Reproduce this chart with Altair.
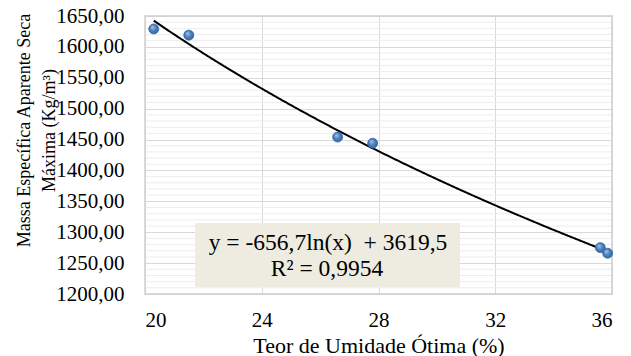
import altair as alt
import pandas as pd

# Measured points: optimum moisture content (%) vs. maximum dry density (kg/m3)
umidade = [20.3, 21.5, 26.6, 27.8, 35.6, 35.85]
massa = [1629, 1619, 1454, 1444, 1275, 1266]

# Logarithmic trend line y = a*ln(x) + b
coef_a = -656.7
coef_b = 3619.5
eq_text = "y = -656,7ln(x)\u00a0 + 3619,5"
r2_text = "R² = 0,9954"

x_ticks = [20, 24, 28, 32, 36]
y_ticks = [1200, 1250, 1300, 1350, 1400, 1450, 1500, 1550, 1600, 1650]
y_minor = [v for v in range(1200, 1651, 10) if v % 50 != 0]

FONT = "Liberation Serif"

pts = pd.DataFrame({"x": umidade, "y": massa})
minor_df = pd.DataFrame({"y": y_minor})

x_scale = alt.Scale(domain=[20, 36], nice=False, zero=False)
y_scale = alt.Scale(domain=[1200, 1650], nice=False, zero=False)

x_axis = alt.Axis(
    values=x_ticks, tickCount=len(x_ticks), title="Teor de Umidade Ótima (%)", grid=True,
    gridColor="#D9D9D9", ticks=False, domain=False, labelOverlap=False,
    labelFont=FONT, labelFontSize=21, labelColor="black", labelPadding=15,
    titleFont=FONT, titleFontSize=22, titleColor="black", titleFontWeight="normal",
    titlePadding=5,
)
y_axis = alt.Axis(
    values=y_ticks, tickCount=len(y_ticks), grid=True, gridColor="#D9D9D9",
    labelExpr="replace(format(datum.value, '.2f'), '.', ',')",
    labelOverlap=False, ticks=False, domain=False,
    labelFont=FONT, labelFontSize=21, labelColor="black", labelPadding=21,
    title=["Massa Específica Aparente Seca", "Máxima (Kg/m³)"],
    titleFont=FONT, titleFontSize=18, titleColor="black", titleFontWeight="normal",
    titleAngle=-90, titleX=-121, titleY=114, titleAlign="center", titleBaseline="middle",
    titleLineHeight=25,
)

minor = alt.Chart(minor_df).mark_rule(color="#EDEDED", strokeWidth=1).encode(
    y=alt.Y("y:Q", scale=y_scale, axis=y_axis)
)

trend = (
    alt.Chart(alt.sequence(start=min(umidade), stop=max(umidade) + 0.01, step=0.05, as_="x"))
    .transform_calculate(y=f"{coef_a} * log(datum.x) + {coef_b}")
    .mark_line(color="black", strokeWidth=2)
    .encode(x=alt.X("x:Q", scale=x_scale, axis=x_axis), y=alt.Y("y:Q", scale=y_scale))
)

sphere = alt.Gradient(
    gradient="radial",
    x1=0.35, y1=0.3, r1=0.0, x2=0.5, y2=0.5, r2=0.6,
    stops=[
        alt.GradientStop(offset=0, color="#A9C8F0"),
        alt.GradientStop(offset=0.5, color="#4F81BD"),
        alt.GradientStop(offset=1, color="#2A5A98"),
    ],
)
points = alt.Chart(pts).mark_circle(
    size=100, fill=sphere, stroke="#3A6AA8", strokeWidth=0.8, opacity=1
).encode(x=alt.X("x:Q", scale=x_scale), y=alt.Y("y:Q", scale=y_scale))

label_df = pd.DataFrame({"l1": [eq_text], "l2": [r2_text]})

box = alt.Chart(label_df).mark_rect(color="#EEECE1").encode(
    x=alt.value(50), x2=alt.value(315), y=alt.value(207), y2=alt.value(271)
)
line1 = alt.Chart(label_df).mark_text(font=FONT, fontSize=23.5, color="black").encode(
    text="l1:N", x=alt.value(183), y=alt.value(227)
)
line2 = alt.Chart(label_df).mark_text(font=FONT, fontSize=23.5, color="black").encode(
    text="l2:N", x=alt.value(182), y=alt.value(253)
)

border = alt.Chart(label_df).mark_rect(fill=None, stroke="#D0D0D0", strokeWidth=1.5).encode(
    x=alt.value(0), x2=alt.value(467), y=alt.value(0), y2=alt.value(278)
)

chart = (
    alt.layer(minor, border, trend, points, box, line1, line2)
    .properties(
        width=467, height=278,
        autosize=alt.AutoSizeParams(type="none"),
        padding={"left": 145, "top": 16, "right": 19, "bottom": 62},
    )
    .configure_view(stroke=None)
    .configure(background="white")
)

chart.save("out.html", embed_options={"renderer": "svg", "actions": False})
